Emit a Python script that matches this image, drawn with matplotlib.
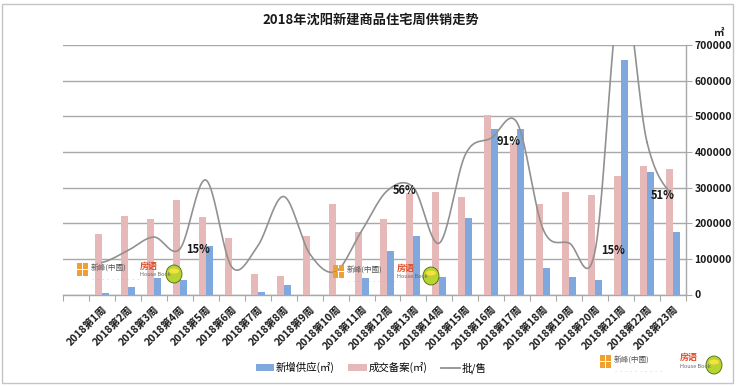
import numpy as np
import matplotlib
matplotlib.use('Agg')
import matplotlib.pyplot as plt
from matplotlib.patches import Rectangle, Ellipse, Patch
from matplotlib.lines import Line2D

plt.rcParams['font.family'] = ['Noto Sans CJK SC', 'DejaVu Sans']

# ---------------- data ----------------
weeks = ["2018第1周", "2018第2周", "2018第3周", "2018第4周", "2018第5周", "2018第6周",
         "2018第7周", "2018第8周", "2018第9周", "2018第10周", "2018第11周", "2018第12周",
         "2018第13周", "2018第14周", "2018第15周", "2018第16周", "2018第17周", "2018第18周",
         "2018第19周", "2018第20周", "2018第21周", "2018第22周", "2018第23周"]
supply = [5000, 20000, 45000, 40000, 136000, 0, 7000, 26000, 0, 0, 45000, 121000,
          164000, 48000, 215000, 463000, 463000, 74000, 49000, 40000, 659000, 343000, 176000]
sales = [170000, 221000, 211000, 265000, 218000, 159000, 57000, 51000, 165000, 254000,
         174000, 212000, 285000, 287000, 274000, 505000, 425000, 254000, 288000, 280000,
         332000, 360000, 351000]
ratio_pct = [6, 14, 23, 15, 61, 3, 17, 50, 12, 0, 27, 54, 56, 19, 78, 89, 99, 28, 19, 14,
             190, 86, 51]
label_weeks = [4, 12, 16, 20, 23]
label_texts = ["15%", "56%", "91%", "15%", "51%"]
yticks = [0, 100000, 200000, 300000, 400000, 500000, 600000, 700000]

title = "2018年沈阳新建商品住宅周供销走势"
legend_names = ["新增供应(㎡)", "成交备案(㎡)", "批/售"]

# ---------------- style ----------------
W, H = 740, 387
BLUE = '#7fa8de'
PINK = '#e6b9b8'
LINEC = '#919191'
GRID = '#a8a8a8'
TXT = '#1a1a1a'


def fx(px):
    return px / W


def fy(py):
    return 1 - py / H


fig = plt.figure(figsize=(W / 100, H / 100), dpi=100)
fig.patch.set_facecolor('white')

ax = fig.add_axes([fx(63), fy(294.5), (686 - 63) / W, (294.5 - 45) / H])
x = np.arange(len(weeks))
bw = 0.27
ax.bar(x - bw / 2, sales, bw, color=PINK, zorder=3)
ax.bar(x + bw / 2, supply, bw, color=BLUE, zorder=3)

# hidden secondary axis for the ratio line (created first so tick sides stay put)
ax2 = ax.twinx()

ax.set_xlim(-1.5, len(weeks) - 0.5)
ax.set_ylim(0, 700000)
ax.yaxis.tick_right()
ax.yaxis.set_label_position('right')
ax.set_yticks(yticks)
ax.set_yticklabels([str(v) for v in yticks], fontsize=7.5, fontweight='bold', color=TXT)
ax.tick_params(axis='y', which='both', left=False, labelleft=False, right=True,
               labelright=True, length=4, width=0.8, color=GRID, pad=2)
ax.yaxis.grid(True, color=GRID, lw=1)
ax.set_axisbelow(True)

ax.set_xticks(x)
ax.set_xticklabels(weeks, rotation=45, ha='right', rotation_mode='anchor',
                   fontsize=7.5, fontweight='bold', color=TXT)
ax.tick_params(axis='x', which='major', length=0, pad=7)
ax.set_xticks(np.arange(-1.5, len(weeks), 1.0), minor=True)
ax.tick_params(axis='x', which='minor', length=4, width=0.8, color=GRID)

for s in ['top', 'left']:
    ax.spines[s].set_visible(False)
for s in ['right', 'bottom']:
    ax.spines[s].set_color(GRID)
    ax.spines[s].set_linewidth(1)

ax2.set_ylim(-0.153, 1.51)
ax2.axis('off')

r = np.array(ratio_pct, dtype=float) / 100.0
xs_all, ys_all = [], []
n = len(r)
for i in range(n - 1):
    p0 = r[i - 1] if i > 0 else r[i]
    p1, p2 = r[i], r[i + 1]
    p3 = r[i + 2] if i + 2 < n else r[i + 1]
    t = np.linspace(0, 1, 40)
    yy = 0.5 * ((2 * p1) + (-p0 + p2) * t + (2 * p0 - 5 * p1 + 4 * p2 - p3) * t ** 2
                + (-p0 + 3 * p1 - 3 * p2 + p3) * t ** 3)
    xs_all.append(i + t)
    ys_all.append(yy)
ax2.plot(np.concatenate(xs_all), np.concatenate(ys_all), color=LINEC, lw=1.2, zorder=5)

label_dx = [0.69, 0.67, 0.68, 0.69, -0.39]
for wk, txt, dx in zip(label_weeks, label_texts, label_dx):
    idx = wk - 1
    ax2.text(idx + dx, r[idx] if wk != 16 else r[idx] - 0.02, txt, ha='center', va='center',
             fontsize=8, fontweight='bold', color=TXT, zorder=6)

# ----- title, unit, legend, border -----
fig.text(fx(371), fy(20), title, ha='center', va='center', fontsize=9.5,
         fontweight='bold', color=TXT)
fig.text(fx(718), fy(33), "㎡", ha='center', va='center', fontsize=7.5,
         fontweight='bold', color=TXT)

handles = [Patch(facecolor=BLUE, edgecolor='none'),
           Patch(facecolor=PINK, edgecolor='none'),
           Line2D([0], [0], color=LINEC, lw=1.3)]
fig.legend(handles, legend_names, loc='center', bbox_to_anchor=(fx(371), fy(368)),
           ncol=3, frameon=False, fontsize=7.5, handlelength=1.8, handleheight=0.6,
           columnspacing=1.3, handletextpad=0.15)

fig.add_artist(Rectangle((fx(2), fy(383)), (733 - 2) / W, (383 - 4) / H,
                         transform=fig.transFigure, fill=False, edgecolor='#c4c4c4', lw=1))


# ----- watermark logos (approximate) -----
def logo_xf(x0, y0, s=1.0):
    for dxp, dyp in [(0, 0), (6 * s, 0), (0, 7 * s), (6 * s, 7 * s)]:
        fig.add_artist(Rectangle((fx(x0 + dxp), fy(y0 + dyp + 6 * s)), 5 * s / W, 6 * s / H,
                                 transform=fig.transFigure, color='#f0a030', lw=0))
    fig.text(fx(x0 + 14 * s), fy(y0 + 6 * s), "新峰(中國)", fontsize=5.5 * s, color='#555555',
             va='center', ha='left')
    fig.text(fx(x0 + 14 * s), fy(y0 + 17 * s), "· · · · · · · · · ·", fontsize=3 * s,
             color='#999999', va='center', ha='left')


def logo_hb(x0, y0, s=1.0):
    fig.text(fx(x0), fy(y0), "房语", fontsize=6.5 * s, color='#e0502a', va='center',
             ha='left', fontweight='bold')
    fig.text(fx(x0), fy(y0 + 9 * s), "House Book", fontsize=4 * s, color='#666666',
             va='center', ha='left')
    fig.add_artist(Ellipse((fx(x0 + 34 * s), fy(y0 + 8 * s)), 16 * s / W, 18 * s / H,
                           transform=fig.transFigure, facecolor='#b8d430',
                           edgecolor='#4a6a10', lw=0.6))
    fig.add_artist(Ellipse((fx(x0 + 34 * s), fy(y0 + 5 * s)), 10 * s / W, 5 * s / H,
                           transform=fig.transFigure, facecolor='#f8e040',
                           edgecolor='none'))


logo_xf(77, 263)
logo_hb(140, 266)
logo_xf(333, 265)
logo_hb(397, 268)
logo_xf(600, 355)
logo_hb(680, 357)

fig.savefig('out.png', dpi=100, facecolor='white')
